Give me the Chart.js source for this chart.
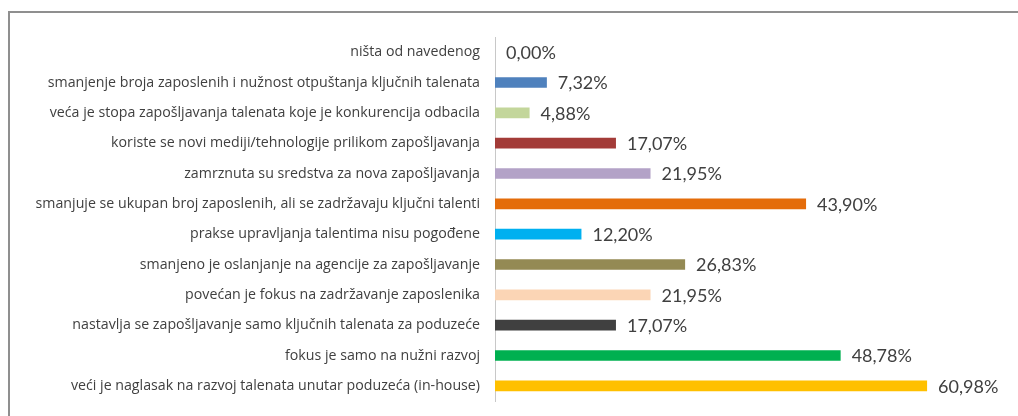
<!DOCTYPE html>
<html>
<head>
<meta charset="utf-8">
<script src="https://cdn.jsdelivr.net/npm/chart.js@4.4.1/dist/chart.umd.min.js"></script>
<style>
  html, body { margin: 0; padding: 0; background: #fff; overflow: hidden; }
  #wrap { position: relative; width: 1018px; height: 416px; }
  #frame { position: absolute; left: 8px; top: 11px; width: 1100px; height: 500px;
           border-top: 2px solid #8f8f8f; border-left: 2px solid #8f8f8f; }
  canvas { position: absolute; left: 0; top: 0; }
</style>
</head>
<body>
<div id="wrap">
  <div id="frame"></div>
  <canvas id="myChart" width="1018" height="416"></canvas>
</div>
<script>
let answerLabels = ['ništa od navedenog',
'smanjenje broja zaposlenih i nužnost otpuštanja ključnih talenata',
'veća je stopa zapošljavanja talenata koje je konkurencija odbacila',
'koriste se novi mediji/tehnologije prilikom zapošljavanja',
'zamrznuta su sredstva za nova zapošljavanja',
'smanjuje se ukupan broj zaposlenih, ali se zadržavaju ključni talenti',
'prakse upravljanja talentima nisu pogođene',
'smanjeno je oslanjanje na agencije za zapošljavanje',
'povećan je fokus na zadržavanje zaposlenika',
'nastavlja se zapošljavanje samo ključnih talenata za poduzeće',
'fokus je samo na nužni razvoj',
'veći je naglasak na razvoj talenata unutar poduzeća (in-house)'];

let answerPercents = [0.00, 7.32, 4.88, 17.07, 21.95, 43.90, 12.20, 26.83, 21.95, 17.07, 48.78, 60.98];

let barColors = ['#4f81bd', '#4f81bd', '#c3d69b', '#a33b38', '#b3a2c7', '#e46c0a',
'#00b0f0', '#948a54', '#fbd5b5', '#404040', '#00b050', '#ffc000'];

// labels at the end of each bar, like "7,32%"
const valueLabels = {
    id: 'valueLabels',
    afterDatasetsDraw(chart) {
        const ctx = chart.ctx;
        const meta = chart.getDatasetMeta(0);
        ctx.save();
        ctx.font = '18px Lato, "Open Sans", sans-serif';
        ctx.fillStyle = '#404040';
        ctx.textBaseline = 'middle';
        ctx.textAlign = 'left';
        meta.data.forEach(function(bar, i) {
            let txt = answerPercents[i].toFixed(2).replace('.', ',') + '%';
            ctx.fillText(txt, bar.x + 11, bar.y + 1);
        });
        ctx.restore();
    }
};

let chartElement = document.getElementById("myChart").getContext('2d');

let myChart = new Chart(chartElement, {
    type: 'bar',
    data: {
        labels: answerLabels,
        datasets: [{
            data: answerPercents,
            backgroundColor: barColors,
            categoryPercentage: 1,
            barPercentage: 0.35
        }]
    },
    options: {
        indexAxis: 'y',
        responsive: false,
        animation: false,
        layout: { padding: { left: 0, right: 27, top: 37, bottom: 15 } },
        plugins: {
            legend: { display: false },
            tooltip: { enabled: false }
        },
        scales: {
            x: {
                display: false,
                min: 0,
                max: 70
            },
            y: {
                afterFit: function(scale) {
                    scale.width = 495;
                    scale.paddingTop = 0;
                    scale.paddingBottom = 0;
                },
                grid: { display: false, drawTicks: false },
                border: { display: true, color: '#c8c8c8', width: 1 },
                ticks: {
                    padding: 15,
                    color: '#404040',
                    font: { family: '"Open Sans", Lato, sans-serif', size: 14.2 }
                }
            }
        }
    },
    plugins: [valueLabels]
});
</script>
</body>
</html>
